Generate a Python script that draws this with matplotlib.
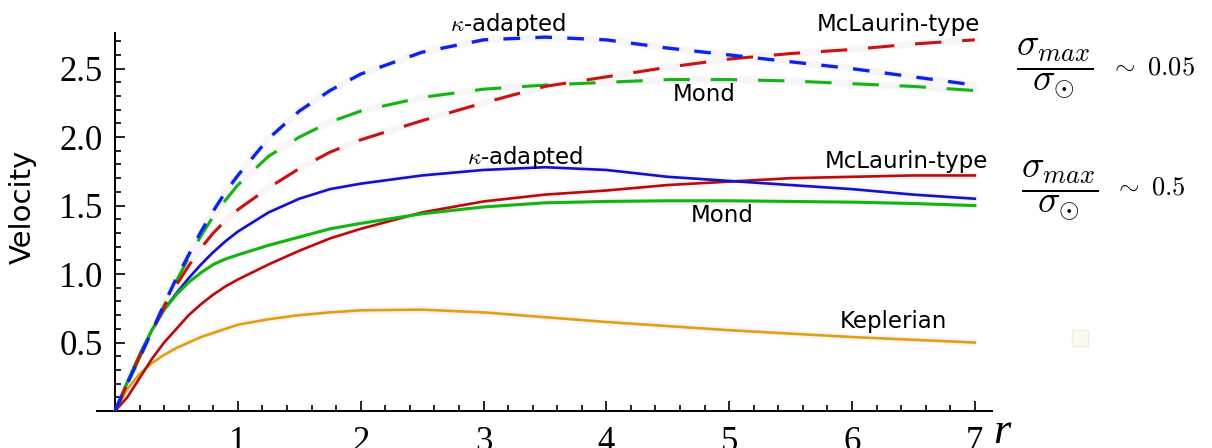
import numpy as np
import matplotlib
matplotlib.use("Agg")
import matplotlib.pyplot as plt
from matplotlib.ticker import FixedLocator

# radius grid (same for all curves)
r = [0, 0.1, 0.2, 0.3, 0.4, 0.5, 0.6, 0.7, 0.8, 0.9, 1.0, 1.25, 1.5, 1.75, 2.0,
     2.5, 3.0, 3.5, 4.0, 4.5, 5.0, 5.5, 6.0, 6.5, 7.0]

# sigma_max / sigma_sun ~ 0.05 (dashed)
kappa_005 = [0, 0.20, 0.39, 0.58, 0.78, 0.97, 1.14, 1.31, 1.46, 1.60, 1.72, 1.99, 2.19, 2.34, 2.46,
             2.62, 2.71, 2.73, 2.71, 2.65, 2.60, 2.55, 2.50, 2.44, 2.38]
mond_005 = [0, 0.20, 0.39, 0.58, 0.77, 0.95, 1.12, 1.28, 1.42, 1.54, 1.65, 1.86, 2.00, 2.11, 2.19,
            2.29, 2.35, 2.38, 2.40, 2.42, 2.42, 2.41, 2.39, 2.37, 2.34]
mclaurin_005 = [0, 0.20, 0.40, 0.58, 0.76, 0.92, 1.06, 1.19, 1.30, 1.39, 1.47, 1.63, 1.77, 1.89, 1.98,
                2.12, 2.25, 2.37, 2.44, 2.51, 2.57, 2.61, 2.64, 2.68, 2.71]

# sigma_max / sigma_sun ~ 0.5 (solid)
kappa_05 = [0, 0.21, 0.41, 0.59, 0.74, 0.86, 0.97, 1.07, 1.16, 1.24, 1.31, 1.45, 1.55, 1.62, 1.66,
            1.72, 1.76, 1.78, 1.76, 1.71, 1.68, 1.65, 1.62, 1.58, 1.55]
mond_05 = [0, 0.21, 0.41, 0.59, 0.74, 0.85, 0.94, 1.01, 1.07, 1.11, 1.14, 1.21, 1.27, 1.33, 1.37,
           1.44, 1.49, 1.52, 1.53, 1.535, 1.535, 1.53, 1.525, 1.515, 1.50]
mclaurin_05 = [0, 0.10, 0.24, 0.38, 0.50, 0.60, 0.70, 0.78, 0.85, 0.91, 0.96, 1.07, 1.17, 1.26, 1.33,
               1.45, 1.53, 1.58, 1.61, 1.65, 1.675, 1.70, 1.71, 1.72, 1.72]
keplerian = [0, 0.16, 0.27, 0.35, 0.41, 0.46, 0.50, 0.54, 0.57, 0.60, 0.63, 0.67, 0.70, 0.72, 0.735,
             0.74, 0.72, 0.685, 0.65, 0.62, 0.59, 0.565, 0.54, 0.52, 0.50]

plt.rcParams['lines.scale_dashes'] = False
plt.rcParams['mathtext.fontset'] = 'cm'

fig = plt.figure(figsize=(12.12, 4.48), dpi=100)
ax = fig.add_axes([0.080, 0.0826, 0.8185 - 0.080, 0.9263 - 0.0826])

# faint glow that sits under every curve
halo = '#f8f5f7'
for ys in [keplerian, mclaurin_05, mond_05, kappa_05, mclaurin_005, mond_005, kappa_005]:
    ax.plot(r, ys, color=halo, lw=5, solid_capstyle='round', zorder=1)

ax.plot(r, keplerian, color='#e0a010', lw=1.9, zorder=3)
ax.plot(r, mclaurin_05, color='#b80c0c', lw=1.9, zorder=3)
ax.plot(r, kappa_05, color='#1212c8', lw=1.9, zorder=3)
ax.plot(r, mond_05, color='#12b412', lw=2.2, zorder=4)

ax.plot(r, mond_005, color='#14b414', lw=2.2, dashes=(19, 15), zorder=3)
ax.plot(r, mclaurin_005, color='#c41414', lw=2.2, dashes=(19, 15), zorder=4)
ax.plot(r, kappa_005, color='#0a24f0', lw=2.4, dashes=(12, 11), zorder=5)

ax.set_xlim(-0.147, 7.14)
ax.set_ylim(0, 2.76)

ax.spines['left'].set_position(('data', 0))
ax.spines['top'].set_visible(False)
ax.spines['right'].set_visible(False)
for s in ['left', 'bottom']:
    ax.spines[s].set_linewidth(1.4)

ax.xaxis.set_major_locator(FixedLocator([1, 2, 3, 4, 5, 6, 7]))
ax.xaxis.set_minor_locator(FixedLocator(np.arange(0, 7.01, 0.2)))
ax.yaxis.set_major_locator(FixedLocator([0.5, 1.0, 1.5, 2.0, 2.5]))
ax.yaxis.set_minor_locator(FixedLocator(np.arange(0.1, 2.75, 0.1)))
ax.set_yticklabels(['0.5', '1.0', '1.5', '2.0', '2.5'])
ax.tick_params(which='both', direction='in', width=1.2, colors='black')
ax.tick_params(which='major', length=7)
ax.tick_params(which='minor', length=4.5)
ax.tick_params(axis='y', which='major', pad=9, labelsize=25)
ax.tick_params(axis='x', which='major', pad=11, labelsize=25)
for lab in ax.get_xticklabels() + ax.get_yticklabels():
    lab.set_fontfamily('Liberation Serif')

ax.text(-0.75, 1.49, 'Velocity', rotation=90, fontsize=21, family='DejaVu Sans',
        ha='center', va='center', clip_on=False)
ax.text(7.22, -0.15, 'r', fontsize=32, family='Liberation Serif', style='italic',
        ha='center', va='center', clip_on=False)

lab_kw = dict(fontsize=16.5, family='DejaVu Sans', ha='center', va='center', clip_on=False)
ax.text(3.2, 2.82, r'$\kappa$-adapted', **lab_kw)
ax.text(6.38, 2.82, 'McLaurin-type', **lab_kw)
ax.text(4.80, 2.31, 'Mond', **lab_kw)
ax.text(3.34, 1.85, r'$\kappa$-adapted', **lab_kw)
ax.text(6.44, 1.82, 'McLaurin-type', **lab_kw)
ax.text(4.94, 1.43, 'Mond', **lab_kw)
ax.text(6.34, 0.65, 'Keplerian', **lab_kw)

frac = r'$\dfrac{\sigma_{max}}{\sigma_{\odot}}$'
ax.text(7.655, 2.50, frac, fontsize=27, ha='center', va='center', clip_on=False)
ax.text(8.10, 2.51, r'$\sim\ 0.05$', fontsize=19, ha='left', va='center', clip_on=False)
ax.text(7.69, 1.61, frac, fontsize=27, ha='center', va='center', clip_on=False)
ax.text(8.13, 1.63, r'$\sim\ 0.5$', fontsize=19, ha='left', va='center', clip_on=False)

# faint square artefact on the right
ax.plot([7.86], [0.53], marker='s', markersize=11, color='#fcfaf0',
        markeredgecolor='#f1ede0', clip_on=False)

fig.savefig('out.png', dpi=100, facecolor='white')
